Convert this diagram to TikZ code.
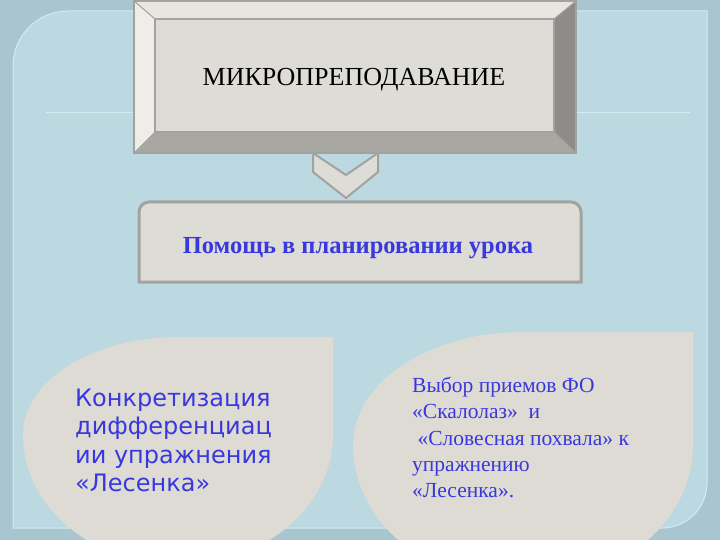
\documentclass[tikz,border=0pt]{standalone}
\usepackage{fontspec}
\setmainfont{Liberation Serif}
\newfontfamily\notefont{DejaVu Sans}
\definecolor{bgouter}{HTML}{A9C5CF}
\definecolor{panel}{HTML}{BCD9E1}
\definecolor{panelline}{HTML}{D3ECF1}
\definecolor{face}{HTML}{DEDCD6}
\definecolor{bevtop}{HTML}{E8E6E1}
\definecolor{bevleft}{HTML}{EEEDE9}
\definecolor{bevright}{HTML}{8E8C88}
\definecolor{bevbot}{HTML}{A9A7A2}
\definecolor{frame}{HTML}{A2A2A0}
\definecolor{leaf}{HTML}{DEDBD5}
\definecolor{txtblue}{HTML}{3838DE}
\begin{document}
\begin{tikzpicture}[x=1pt,y=-1pt,
  frameline/.style={draw=frame,line width=2pt},
  bluetext/.style={text=txtblue,inner sep=0pt}]
\useasboundingbox (0,0) rectangle (720,540);
\clip (0,0) rectangle (720,540);
\fill[bgouter] (0,0) rectangle (720,540);
% panel
\draw[fill=panel,draw=panelline,line width=1pt] (13,528) -- (13,66) arc[start angle=180,end angle=270,radius=55] -- (707,11) -- (707,483) arc[start angle=0,end angle=90,radius=45] -- cycle;
\draw[panelline,line width=1pt] (46,113) -- (690,113);
% chevron
\filldraw[fill=face,frameline] (313,153) -- (346,175) -- (378,153) -- (378,172) -- (346,198) -- (313,172) -- cycle;
% top box with bevels
\fill[bevtop] (134,1) -- (576,1) -- (554,19) -- (155,19) -- cycle;
\fill[bevleft] (134,1) -- (155,19) -- (155,132) -- (134,153) -- cycle;
\fill[bevright] (576,1) -- (576,153) -- (554,132) -- (554,19) -- cycle;
\fill[bevbot] (134,153) -- (155,132) -- (554,132) -- (576,153) -- cycle;
\filldraw[fill=face,draw=frame,line width=1.5pt] (155,19) rectangle (554,132);
\draw[frame,line width=1pt] (134,1) -- (155,19) (576,1) -- (554,19) (134,153) -- (155,132) (576,153) -- (554,132);
\draw[frameline] (134,1) rectangle (576,153);
\node[anchor=base,inner sep=0pt,font=\fontsize{26}{30}\selectfont] (title) at (354,86) {МИКРОПРЕПОДАВАНИЕ};
% help box
\filldraw[fill=face,frameline,line width=3pt] (139,282) -- (139,212) arc[start angle=180,end angle=270,radius=10] -- (571,202) arc[start angle=270,end angle=360,radius=10] -- (581,282) -- cycle;
\node[bluetext,anchor=base,font=\bfseries\fontsize{24.5}{28}\selectfont] (help) at (358,254) {Помощь в планировании урока};
% leaves
\fill[leaf] (333,337) -- (333,435) arc[start angle=0,end angle=180,x radius=155,y radius=130] arc[start angle=180,end angle=270,x radius=155,y radius=98] -- cycle;
\fill[leaf] (693,332) -- (693,445) arc[start angle=0,end angle=180,x radius=170,y radius=140] arc[start angle=180,end angle=270,x radius=170,y radius=113] -- cycle;
\node[bluetext,anchor=north west,align=left,font=\notefont\fontsize{24}{28.5}\selectfont] (leftnote) at (75,388.5) {Конкретизация\\дифференциац\\ии упражнения\\«Лесенка»};
\node[bluetext,anchor=north west,align=left,font=\fontsize{21.5}{26.3}\selectfont] (rightnote) at (412,377) {Выбор приемов ФО\\«Скалолаз»~\ и\\\hspace*{0.25em}«Словесная похвала» к\\упражнению\\«Лесенка».};
\end{tikzpicture}
\end{document}
